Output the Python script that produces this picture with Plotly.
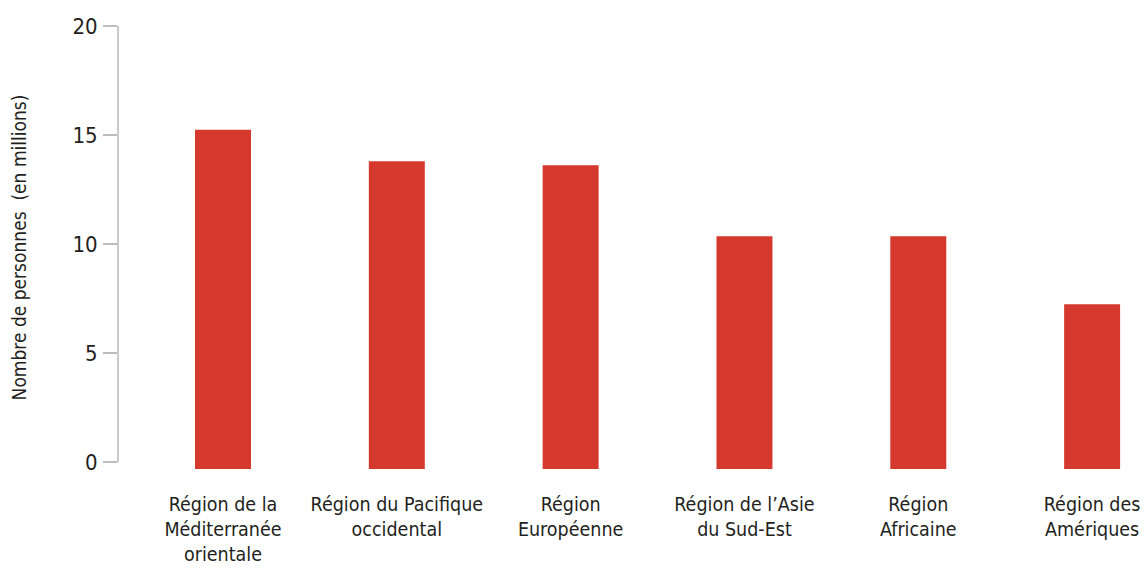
import plotly.graph_objects as go

categories = [
    "Région de la<br>Méditerranée<br>orientale",
    "Région du Pacifique<br>occidental",
    "Région<br>Européenne",
    "Région de l’Asie<br>du Sud-Est",
    "Région<br>Africaine",
    "Région des<br>Amériques",
]
values = [15.25, 13.8, 13.62, 10.37, 10.37, 7.25]
y_ticks = [0, 5, 10, 15, 20]

BASE = -0.3
FONT = "DejaVu Sans Condensed, Liberation Sans Narrow, Roboto, sans-serif"
TEXT = "#231F20"
GRID = "#BDBDBD"
RED = "#D5392E"

fig = go.Figure(
    go.Bar(
        x=list(range(len(categories))),
        y=[v - BASE for v in values],
        base=BASE,
        marker=dict(color=RED, line=dict(width=0)),
        width=0.322,
        hoverinfo="skip",
    )
)

fig.add_shape(
    type="line", xref="paper", yref="y", x0=0, x1=0, y0=0, y1=20,
    line=dict(color=GRID, width=1.6),
)

fig.update_layout(
    width=1146, height=574,
    margin=dict(l=118, r=0, t=26, b=105),
    plot_bgcolor="white", paper_bgcolor="white",
    showlegend=False,
    font=dict(family=FONT, color=TEXT, size=19),
    xaxis=dict(
        range=[-0.604, 5.31],
        tickmode="array",
        tickvals=list(range(len(categories))),
        ticktext=categories,
        showline=False, showgrid=False, zeroline=False,
        ticks="", ticklabelstandoff=21,
        tickfont=dict(family=FONT, size=19.5, color=TEXT),
    ),
    yaxis=dict(
        range=[BASE, 20],
        tickmode="array",
        tickvals=y_ticks,
        ticktext=[str(t) for t in y_ticks],
        showline=False, showgrid=False, zeroline=False,
        ticks="outside", ticklen=14, tickwidth=1.6, tickcolor=GRID,
        ticklabelstandoff=1,
        tickfont=dict(family=FONT, size=22, color=TEXT),
        title=dict(text="Nombre de personnes  (en millions)",
                   font=dict(family=FONT, size=19, color=TEXT), standoff=40),
    ),
)

fig.write_html("out.html")
